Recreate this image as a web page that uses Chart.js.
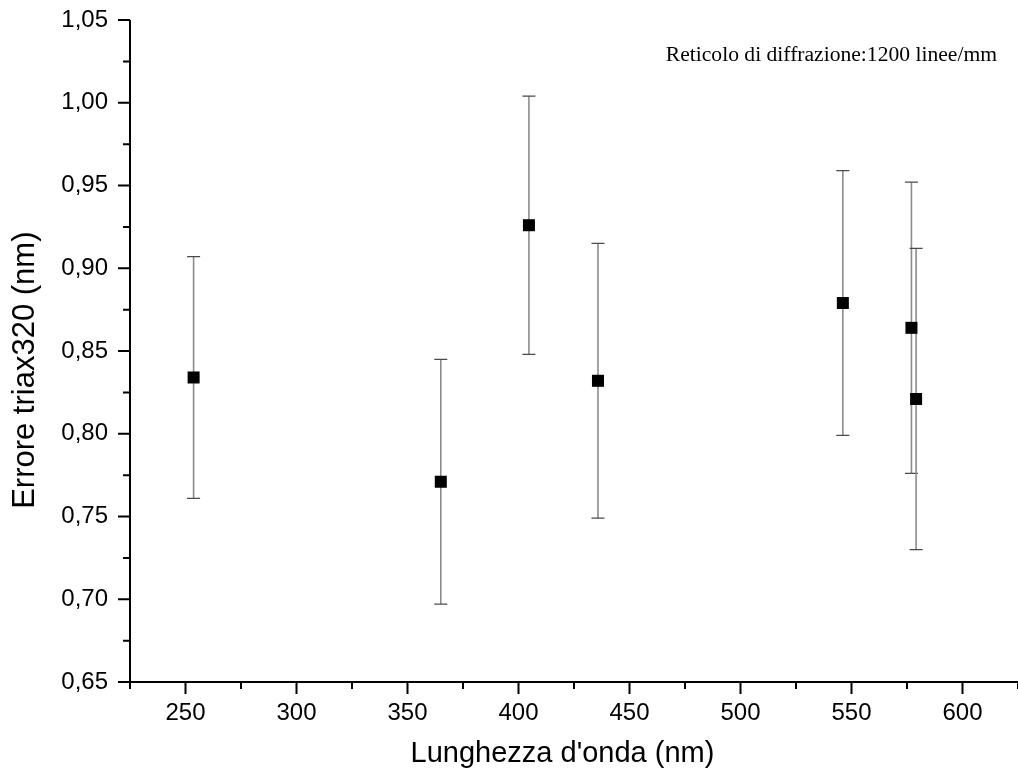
<!DOCTYPE html>
<html><head><meta charset="utf-8">
<script src="https://cdn.jsdelivr.net/npm/chart.js@4"></script>
<style>html,body{margin:0;padding:0;background:#fff}canvas{display:block}</style>
</head><body>
<canvas id="c" width="1018" height="781" style="width:1018px;height:781px"></canvas>
<script>
// ---- data ----
const wavelengths = [253.65, 365.0, 404.7, 435.8, 546.1, 577.0, 579.1];
const errTriax = [0.834, 0.771, 0.926, 0.832, 0.879, 0.864, 0.821];
const errBars = [0.073, 0.074, 0.078, 0.083, 0.080, 0.088, 0.091];
const xMajorTicks = [250, 300, 350, 400, 450, 500, 550, 600];
const xMinorTicks = [225, 275, 325, 375, 425, 475, 525, 575, 625];
const yMajorTicks = [0.65, 0.70, 0.75, 0.80, 0.85, 0.90, 0.95, 1.00, 1.05];
const yMinorTicks = [0.675, 0.725, 0.775, 0.825, 0.875, 0.925, 0.975, 1.025];
const xTitle = "Lunghezza d'onda (nm)";
const yTitle = "Errore triax320 (nm)";
const annotationText = "Reticolo di diffrazione:1200 linee/mm";

const SANS = "'Liberation Sans', Arial, sans-serif";
const SERIF = "'Liberation Serif', 'Times New Roman', serif";

const errorBarPlugin = {
  id: 'errorBars',
  beforeDatasetsDraw(chart) {
    const xs = chart.scales.x, ys = chart.scales.y, ctx = chart.ctx;
    ctx.save();
    wavelengths.forEach((w, i) => {
      const x = xs.getPixelForValue(w);
      const yt = ys.getPixelForValue(errTriax[i] + errBars[i]);
      const yb = ys.getPixelForValue(errTriax[i] - errBars[i]);
      ctx.strokeStyle = '#8c8c8c';
      ctx.lineWidth = 1.6;
      ctx.beginPath(); ctx.moveTo(x, yt); ctx.lineTo(x, yb); ctx.stroke();
      ctx.strokeStyle = '#4a4a4a';
      ctx.lineWidth = 1.2;
      ctx.beginPath();
      ctx.moveTo(x - 6.5, yt); ctx.lineTo(x + 6.5, yt);
      ctx.moveTo(x - 6.5, yb); ctx.lineTo(x + 6.5, yb);
      ctx.stroke();
    });
    ctx.restore();
  }
};

const axesPlugin = {
  id: 'axesDraw',
  afterDraw(chart) {
    const xs = chart.scales.x, ys = chart.scales.y, ctx = chart.ctx;
    const ca = chart.chartArea;
    ctx.save();
    ctx.strokeStyle = '#000';
    ctx.lineWidth = 2;
    ctx.lineCap = 'butt';
    ctx.beginPath();
    ctx.moveTo(ca.left, ca.top); ctx.lineTo(ca.left, ca.bottom + 1);
    ctx.moveTo(ca.left - 1, ca.bottom); ctx.lineTo(ca.right, ca.bottom);
    ctx.stroke();
    ctx.beginPath();
    xMajorTicks.forEach(v => { const p = xs.getPixelForValue(v); ctx.moveTo(p, ca.bottom); ctx.lineTo(p, ca.bottom + 12); });
    xMinorTicks.forEach(v => { const p = xs.getPixelForValue(v); ctx.moveTo(p, ca.bottom); ctx.lineTo(p, ca.bottom + 7); });
    yMajorTicks.forEach(v => { const p = ys.getPixelForValue(v); ctx.moveTo(ca.left, p); ctx.lineTo(ca.left - 12, p); });
    yMinorTicks.forEach(v => { const p = ys.getPixelForValue(v); ctx.moveTo(ca.left, p); ctx.lineTo(ca.left - 7, p); });
    ctx.stroke();
    ctx.fillStyle = '#000';
    // annotation
    ctx.font = '21.6px ' + SERIF;
    ctx.textAlign = 'right';
    ctx.textBaseline = 'alphabetic';
    ctx.fillText(annotationText, ca.right - 21, ca.top + 41);
    // axis titles
    ctx.font = '29px ' + SANS;
    ctx.textAlign = 'center';
    ctx.fillText(xTitle, ca.left + (ca.right - ca.left) * 0.487, 762);
    ctx.save();
    ctx.translate(34, ca.top + (ca.bottom - ca.top) * 0.529);
    ctx.rotate(-Math.PI / 2);
    ctx.font = '31px ' + SANS;
    ctx.fillText(yTitle, 0, 0);
    ctx.restore();
    ctx.restore();
  }
};

new Chart(document.getElementById('c'), {
  type: 'scatter',
  data: {
    datasets: [{
      data: wavelengths.map((w, i) => ({ x: w, y: errTriax[i] })),
      pointStyle: 'rect',
      pointRadius: 8.5,
      pointHoverRadius: 8.5,
      backgroundColor: '#000',
      borderColor: '#000',
      borderWidth: 0
    }]
  },
  options: {
    responsive: false,
    animation: false,
    devicePixelRatio: 1,
    layout: { autoPadding: false, padding: { top: 20, right: 0, bottom: 0, left: 0 } },
    plugins: { legend: { display: false }, tooltip: { enabled: false } },
    scales: {
      x: {
        type: 'linear', min: 225, max: 625,
        afterBuildTicks: s => { s.ticks = xMajorTicks.map(v => ({ value: v })); },
        afterFit: s => { s.height = 99; s.paddingLeft = 0; s.paddingRight = 0; s.paddingTop = 0; s.paddingBottom = 0; },
        grid: { display: false, drawTicks: false },
        border: { display: false },
        ticks: { color: '#000', padding: 17, maxRotation: 0, font: { family: SANS, size: 24 } },
        title: { display: false, text: xTitle }
      },
      y: {
        type: 'linear', min: 0.65, max: 1.05,
        afterBuildTicks: s => { s.ticks = yMajorTicks.map(v => ({ value: v })); },
        afterFit: s => { s.width = 130; s.paddingLeft = 0; s.paddingRight = 0; s.paddingTop = 0; s.paddingBottom = 0; },
        grid: { display: false, drawTicks: false },
        border: { display: false },
        ticks: { color: '#000', padding: 22, font: { family: SANS, size: 24 },
          callback: v => Number(v).toFixed(2).replace('.', ',') },
        title: { display: false, text: yTitle }
      }
    }
  },
  plugins: [errorBarPlugin, axesPlugin]
});
</script>
</body></html>
